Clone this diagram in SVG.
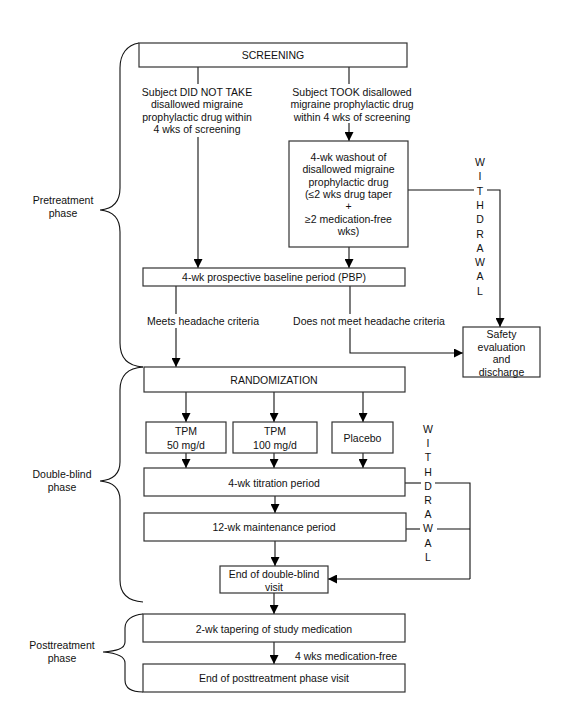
<svg xmlns="http://www.w3.org/2000/svg" width="569" height="707" viewBox="0 0 569 707">
<style>
text{font-family:"Liberation Sans",Arial,sans-serif;font-size:10.5px;fill:#111;text-anchor:middle;dominant-baseline:central}
.box{fill:#fff;stroke:#333;stroke-width:1.2}
.ln{fill:none;stroke:#111;stroke-width:1.1}
.br{fill:none;stroke:#111;stroke-width:1.1}
.arr{marker-end:url(#ah)}
</style>
<defs>
<marker id="ah" markerUnits="userSpaceOnUse" markerWidth="9" markerHeight="9" refX="9" refY="4.5" orient="auto">
<path d="M0,0 L9,4.5 L0,9 z" fill="#000"/>
</marker>
</defs>
<rect width="569" height="707" fill="#fff"/>

<g id="connectors">
<path class="ln" d="M198,67 V84"/>
<path class="ln arr" d="M198,137 V268"/>
<path class="ln" d="M349,67 V84"/>
<path class="ln arr" d="M349,123 V141"/>
<path class="ln arr" d="M349,247 V268"/>
<path class="ln" d="M408,190 H474"/>
<path class="ln arr" d="M487,190 H500 V327"/>
<path class="ln" d="M176,286 V314"/>
<path class="ln arr" d="M176,328 V367"/>
<path class="ln" d="M350,286 V314"/>
<path class="ln arr" d="M350,328 V353 H463"/>
<path class="ln arr" d="M186,392 V422"/>
<path class="ln arr" d="M274,392 V422"/>
<path class="ln arr" d="M363,392 V422"/>
<path class="ln arr" d="M186,453 V468"/>
<path class="ln arr" d="M274,453 V468"/>
<path class="ln arr" d="M363,453 V468"/>
<path class="ln arr" d="M275,496 V513"/>
<path class="ln arr" d="M275,541 V566"/>
<path class="ln" d="M405,483 H421"/>
<path class="ln" d="M435,483 H470 V579"/>
<path class="ln" d="M406,529 H420"/>
<path class="ln" d="M437,529 H470"/>
<path class="ln arr" d="M470,579 H328"/>
<path class="ln arr" d="M274,593 V614"/>
<path class="ln arr" d="M274,642 V664"/>
</g>

<g id="braces">
<path class="br" d="M139,43 C127,45 120,54 120,68 L120,188 C120,203 112,209 100,210 C112,211 120,217 120,232 L120,343 C120,358 128,366 143,367"/>
<path class="br" d="M143,367 C128,368 120,376 120,390 L120,462 C120,475 112,480 100,481 C112,482 120,487 120,500 L120,580 C120,594 128,601 143,602"/>
<path class="br" d="M143,614 C132,615 125,620 125,628 L125,642 C125,649 116,651 103,652 C116,653 125,656 125,663 L125,680 C125,688 132,692 143,692"/>
<text x="63" y="200">Pretreatment</text>
<text x="63" y="212.5">phase</text>
<text x="62" y="474">Double-blind</text>
<text x="62" y="486.5">phase</text>
<text x="62" y="645">Posttreatment</text>
<text x="62" y="657.5">phase</text>
</g>

<g id="screening">
<rect class="box" x="139" y="43" width="268" height="24"/>
<text x="273" y="55">SCREENING</text>
</g>

<g id="label-not-take">
<text x="197" y="92">Subject DID NOT TAKE</text>
<text x="197" y="104.3">disallowed migraine</text>
<text x="197" y="116.6">prophylactic drug within</text>
<text x="197" y="129">4 wks of screening</text>
</g>

<g id="label-took">
<text x="352" y="92">Subject TOOK disallowed</text>
<text x="352" y="104.3">migraine prophylactic drug</text>
<text x="352" y="116.6">within 4 wks of screening</text>
</g>

<g id="washout">
<rect class="box" x="289" y="141" width="119" height="106"/>
<text x="348.5" y="157">4-wk washout of</text>
<text x="348.5" y="169.3">disallowed migraine</text>
<text x="348.5" y="181.6">prophylactic drug</text>
<text x="348.5" y="193.9">(≤2 wks drug taper</text>
<text x="348.5" y="206.2">+</text>
<text x="348.5" y="218.5">≥2 medication-free</text>
<text x="348.5" y="230.8">wks)</text>
</g>

<g id="withdrawal-1">
<text x="480" y="162">W</text>
<text x="480" y="176.3">I</text>
<text x="480" y="190.6">T</text>
<text x="480" y="204.9">H</text>
<text x="480" y="219.2">D</text>
<text x="480" y="233.5">R</text>
<text x="480" y="247.8">A</text>
<text x="480" y="262.1">W</text>
<text x="480" y="276.4">A</text>
<text x="480" y="290.7">L</text>
</g>

<g id="pbp">
<rect class="box" x="143" y="268" width="262" height="18"/>
<text x="274" y="277">4-wk prospective baseline period (PBP)</text>
</g>

<g id="label-meets">
<text x="203" y="321">Meets headache criteria</text>
</g>
<g id="label-not-meet">
<text x="369" y="321">Does not meet headache criteria</text>
</g>

<g id="safety">
<rect class="box" x="463" y="327" width="77" height="50"/>
<text x="501.5" y="334">Safety</text>
<text x="501.5" y="346.5">evaluation</text>
<text x="501.5" y="359">and</text>
<text x="501.5" y="371.5">discharge</text>
</g>

<g id="randomization">
<rect class="box" x="144" y="367" width="261" height="25"/>
<text x="274" y="379.5">RANDOMIZATION</text>
</g>

<g id="tpm50">
<rect class="box" x="146" y="422" width="80" height="31"/>
<text x="186" y="431">TPM</text>
<text x="186" y="444.5">50 mg/d</text>
</g>
<g id="tpm100">
<rect class="box" x="233" y="422" width="84" height="31"/>
<text x="275" y="431">TPM</text>
<text x="275" y="444.5">100 mg/d</text>
</g>
<g id="placebo">
<rect class="box" x="332" y="422" width="61" height="31"/>
<text x="362.5" y="437.5">Placebo</text>
</g>

<g id="titration">
<rect class="box" x="144" y="468" width="261" height="28"/>
<text x="274" y="482.5">4-wk titration period</text>
</g>

<g id="maintenance">
<rect class="box" x="144" y="513" width="262" height="28"/>
<text x="274" y="527">12-wk maintenance period</text>
</g>

<g id="withdrawal-2">
<text x="428" y="429">W</text>
<text x="428" y="443.2">I</text>
<text x="428" y="457.4">T</text>
<text x="428" y="471.6">H</text>
<text x="428" y="485.8">D</text>
<text x="428" y="500">R</text>
<text x="428" y="514.2">A</text>
<text x="428" y="528.4">W</text>
<text x="428" y="542.6">A</text>
<text x="428" y="556.8">L</text>
</g>

<g id="end-double-blind">
<rect class="box" x="220" y="566" width="108" height="27"/>
<text x="274" y="573.5">End of double-blind</text>
<text x="274" y="586.5">visit</text>
</g>

<g id="tapering">
<rect class="box" x="143" y="614" width="262" height="28"/>
<text x="274" y="628.5">2-wk tapering of study medication</text>
</g>

<g id="label-med-free">
<text x="346" y="656">4 wks medication-free</text>
</g>

<g id="end-posttreatment">
<rect class="box" x="143" y="664" width="262" height="28"/>
<text x="274" y="678">End of posttreatment phase visit</text>
</g>
</svg>
